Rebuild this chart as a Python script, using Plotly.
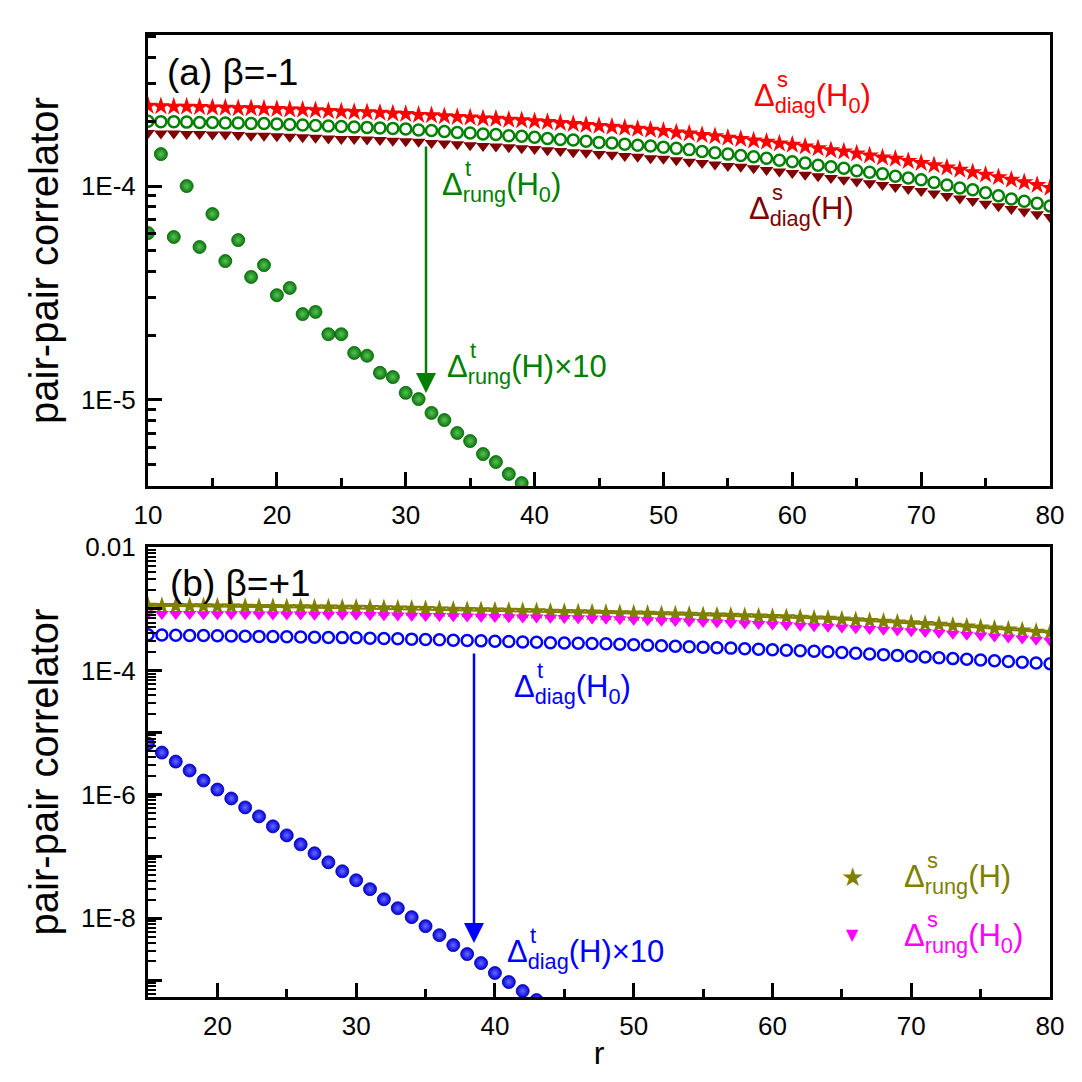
import plotly.graph_objects as go

W, H = 1082, 1082

# ---------------- data: panel (a), beta = -1 ----------------
r_a = list(range(10, 81))
diag_s_H0_a = [x * 1e-4 for x in [
    2.37, 2.36, 2.35, 2.35, 2.34, 2.33, 2.32, 2.31, 2.31, 2.30, 2.29,
    2.28, 2.27, 2.26, 2.24, 2.23, 2.22, 2.21, 2.20, 2.18, 2.17,
    2.15, 2.14, 2.12, 2.10, 2.09, 2.07, 2.06, 2.04, 2.03, 2.01,
    1.99, 1.97, 1.95, 1.93, 1.91, 1.89, 1.87, 1.85, 1.83, 1.81,
    1.78, 1.76, 1.73, 1.71, 1.68, 1.66, 1.63, 1.61, 1.58, 1.56,
    1.53, 1.50, 1.47, 1.45, 1.42, 1.39, 1.36, 1.34, 1.31, 1.28,
    1.25, 1.22, 1.19, 1.16, 1.13, 1.10, 1.07, 1.04, 1.01, 0.98]]
rung_t_H0_a = [x * 1e-4 for x in [
    2.01, 2.00, 2.00, 1.99, 1.98, 1.98, 1.97, 1.97, 1.96, 1.96, 1.95,
    1.94, 1.93, 1.92, 1.91, 1.90, 1.89, 1.88, 1.87, 1.86, 1.85,
    1.83, 1.82, 1.80, 1.78, 1.77, 1.75, 1.74, 1.72, 1.71, 1.69,
    1.67, 1.65, 1.64, 1.62, 1.60, 1.59, 1.57, 1.55, 1.54, 1.52,
    1.50, 1.48, 1.45, 1.43, 1.41, 1.39, 1.37, 1.35, 1.32, 1.30,
    1.28, 1.25, 1.23, 1.21, 1.18, 1.16, 1.14, 1.11, 1.09, 1.07,
    1.04, 1.01, 0.98, 0.96, 0.93, 0.90, 0.87, 0.85, 0.83, 0.807]]
diag_s_H_a = [x * 1e-4 for x in [
    1.77, 1.76, 1.76, 1.75, 1.75, 1.74, 1.74, 1.73, 1.72, 1.72, 1.71,
    1.70, 1.69, 1.68, 1.67, 1.66, 1.66, 1.65, 1.64, 1.63, 1.62,
    1.61, 1.59, 1.58, 1.57, 1.55, 1.54, 1.53, 1.52, 1.50, 1.49,
    1.47, 1.46, 1.44, 1.43, 1.41, 1.40, 1.38, 1.37, 1.35, 1.34,
    1.32, 1.30, 1.28, 1.26, 1.24, 1.23, 1.21, 1.19, 1.17, 1.15,
    1.13, 1.11, 1.09, 1.07, 1.05, 1.03, 1.01, 0.99, 0.97, 0.948,
    0.924, 0.899, 0.875, 0.851, 0.827, 0.804, 0.782, 0.760, 0.738, 0.716]]
r_a_H = list(range(10, 42))
rung_t_H_x10_a = [
    6.03e-5, 1.41e-4, 5.78e-5, 1.00e-4, 5.19e-5, 7.40e-5, 4.46e-5, 5.59e-5,
    3.76e-5, 4.27e-5, 3.09e-5, 3.34e-5, 2.52e-5, 2.58e-5, 2.03e-5, 2.03e-5,
    1.66e-5, 1.61e-5, 1.34e-5, 1.28e-5, 1.08e-5, 1.01e-5, 8.70e-6, 8.06e-6,
    7.01e-6, 6.43e-6, 5.59e-6, 5.13e-6, 4.51e-6, 4.09e-6, 3.60e-6, 3.23e-6]

# ---------------- data: panel (b), beta = +1 ----------------
r_b = list(range(15, 81))
rung_s_H_b = [x * 1e-4 for x in [
    11.2, 11.1, 11.1, 11.0, 11.0, 10.9, 10.9, 10.8, 10.7, 10.7, 10.6,
    10.6, 10.5, 10.5, 10.4, 10.4, 10.3, 10.2, 10.1, 10.0, 9.9,
    9.8, 9.7, 9.6, 9.5, 9.4, 9.3, 9.2, 9.1, 9.0, 8.9,
    8.8, 8.7, 8.6, 8.5, 8.4, 8.3, 8.2, 8.1, 8.0, 7.9,
    7.8, 7.7, 7.6, 7.5, 7.4, 7.3, 7.15, 7.0, 6.90, 6.72,
    6.55, 6.38, 6.21, 6.03, 5.86, 5.69, 5.52, 5.34, 5.16, 4.98,
    4.80, 4.62, 4.45, 4.27, 4.10]]
rung_s_H0_b = [x * 1e-4 for x in [
    8.30, 8.28, 8.26, 8.24, 8.22, 8.20, 8.18, 8.16, 8.14, 8.12, 8.10,
    8.08, 8.06, 8.04, 8.02, 8.00, 7.94, 7.88, 7.82, 7.76, 7.70,
    7.64, 7.58, 7.52, 7.46, 7.40, 7.34, 7.28, 7.22, 7.16, 7.10,
    7.03, 6.96, 6.90, 6.78, 6.67, 6.56, 6.45, 6.34, 6.23, 6.12,
    6.01, 5.90, 5.79, 5.68, 5.57, 5.46, 5.35, 5.24, 5.13, 4.99,
    4.86, 4.73, 4.60, 4.47, 4.34, 4.22, 4.10, 3.96, 3.83, 3.70,
    3.57, 3.44, 3.31, 3.18, 3.05]]
diag_t_H0_b = [x * 1e-4 for x in [
    3.81, 3.78, 3.75, 3.72, 3.70, 3.67, 3.64, 3.61, 3.59, 3.56, 3.53,
    3.51, 3.48, 3.45, 3.43, 3.40, 3.36, 3.32, 3.28, 3.24, 3.20,
    3.16, 3.12, 3.08, 3.04, 3.00, 2.96, 2.92, 2.88, 2.84, 2.81,
    2.78, 2.75, 2.72, 2.67, 2.63, 2.58, 2.54, 2.49, 2.45, 2.40,
    2.36, 2.32, 2.27, 2.23, 2.19, 2.15, 2.11, 2.06, 2.02, 1.97,
    1.92, 1.87, 1.82, 1.77, 1.72, 1.67, 1.62, 1.57, 1.53, 1.49,
    1.45, 1.41, 1.37, 1.33, 1.30]]
r_b_H = list(range(15, 45))
diag_t_H_x10_b = [
    6.65e-6, 4.75e-6, 3.40e-6, 2.44e-6, 1.68e-6, 1.20e-6, 8.61e-7, 6.17e-7,
    4.42e-7, 3.05e-7, 2.18e-7, 1.56e-7, 1.12e-7, 8.0e-8, 5.73e-8, 4.10e-8,
    2.94e-8, 2.02e-8, 1.45e-8, 1.04e-8, 7.43e-9, 5.32e-9, 3.67e-9, 2.63e-9,
    1.88e-9, 1.30e-9, 9.29e-10, 6.65e-10, 4.75e-10, 3.40e-10]

# ---------------- ticks ----------------
xticks_a = [10, 20, 30, 40, 50, 60, 70, 80]
xminor_a = [15, 25, 35, 45, 55, 65, 75]
xticks_b = [20, 30, 40, 50, 60, 70, 80]
xminor_b = [15, 25, 35, 45, 55, 65, 75]
yticks_a = [1e-5, 1e-4]
yticktext_a = ["1E-5", "1E-4"]
yminor_a = [m * 10.0 ** e for e in (-6, -5, -4) for m in range(2, 10)]
yticks_b = [1e-9, 1e-8, 1e-7, 1e-6, 1e-5, 1e-4, 1e-3, 1e-2]
yticktext_b = ["", "1E-8", "", "1E-6", "", "1E-4", "", "0.01"]
yminor_b = [m * 10.0 ** e for e in range(-10, -2) for m in range(2, 10)]

FONT = "Liberation Sans, Arial, sans-serif"
RED, GREEN, DRED = "#ff0000", "#008000", "#800000"
OLIVE, MAG, BLUE = "#808000", "#ff00ff", "#0000ff"

fig = go.Figure()

# panel (a)
fig.add_trace(go.Scatter(x=r_a, y=diag_s_H0_a, mode="markers", showlegend=False,
                         marker=dict(symbol="star", size=14, color=RED), xaxis="x", yaxis="y"))
fig.add_trace(go.Scatter(x=r_a, y=rung_t_H0_a, mode="markers", showlegend=False,
                         marker=dict(symbol="circle-open", size=11, color=GREEN, line=dict(width=2.5)),
                         xaxis="x", yaxis="y"))
fig.add_trace(go.Scatter(x=r_a, y=diag_s_H_a, mode="markers", showlegend=False,
                         marker=dict(symbol="triangle-down", size=12, color=DRED), xaxis="x", yaxis="y"))
fig.add_trace(go.Scatter(x=r_a_H, y=rung_t_H_x10_a, mode="markers", showlegend=False,
                         marker=dict(symbol="circle", size=13, color="#0a7a0a",
                                     gradient=dict(type="radial", color="#5cc05c"),
                                     line=dict(width=0.8, color="#006000")),
                         xaxis="x", yaxis="y"))

# panel (b)
fig.add_trace(go.Scatter(x=r_b, y=rung_s_H_b, mode="lines", showlegend=False,
                         line=dict(color=OLIVE, width=2), xaxis="x2", yaxis="y2"))
fig.add_trace(go.Scatter(x=r_b, y=rung_s_H_b, mode="markers", showlegend=False,
                         marker=dict(symbol="star", size=14, color=OLIVE), xaxis="x2", yaxis="y2"))
fig.add_trace(go.Scatter(x=r_b, y=rung_s_H0_b, mode="markers", showlegend=False,
                         marker=dict(symbol="triangle-down", size=12, color=MAG), xaxis="x2", yaxis="y2"))
fig.add_trace(go.Scatter(x=r_b, y=diag_t_H0_b, mode="markers", showlegend=False,
                         marker=dict(symbol="circle-open", size=11, color=BLUE, line=dict(width=2.5)),
                         xaxis="x2", yaxis="y2"))
fig.add_trace(go.Scatter(x=r_b_H, y=diag_t_H_x10_b, mode="markers", showlegend=False,
                         marker=dict(symbol="circle", size=13, color="#0000dc",
                                     gradient=dict(type="radial", color="#6a6aff"),
                                     line=dict(width=0.8, color="#0000a0")),
                         xaxis="x2", yaxis="y2"))

def px2paper(x, y):
    return x / W, 1 - y / H

common_axis = dict(showline=True, linewidth=3, linecolor="black", mirror=True, automargin=False,
                   ticks="inside", tickwidth=2.5, tickcolor="black", showgrid=False,
                   zeroline=False, tickfont=dict(family=FONT, size=26, color="black"))

xa_dom = [148 / W, 1050 / W]
fig.update_layout(
    template="none",
    width=W, height=H, margin=dict(l=0, r=0, t=0, b=0, pad=0), autosize=False,
    paper_bgcolor="white", plot_bgcolor="white", showlegend=False,
    font=dict(family=FONT, color="black"),
    xaxis=dict(domain=xa_dom, range=[10, 80], anchor="y", tickmode="array", tickvals=xticks_a,
               ticklen=14, ticklabelstandoff=4,
               minor=dict(tickmode="array", tickvals=xminor_a, ticks="inside", ticklen=8,
                          tickwidth=2.5, tickcolor="black", showgrid=False),
               **common_axis),
    yaxis=dict(domain=[1 - 486 / H, 1 - 35 / H], type="log", range=[-5.402, -3.294], anchor="x",
               tickmode="array", tickvals=yticks_a, ticktext=yticktext_a, ticklen=14,
               ticklabelstandoff=4,
               minor=dict(tickmode="array", tickvals=yminor_a, ticks="inside", ticklen=8,
                          tickwidth=2.5, tickcolor="black", showgrid=False),
               title=dict(text="pair-pair correlator", font=dict(family=FONT, size=40), standoff=10),
               **common_axis),
    xaxis2=dict(domain=xa_dom, range=[15, 80], anchor="y2", tickmode="array", tickvals=xticks_b,
                ticklen=14, ticklabelstandoff=4,
                minor=dict(tickmode="array", tickvals=xminor_b, ticks="inside", ticklen=8,
                           tickwidth=2.5, tickcolor="black", showgrid=False),
                title=dict(text="r", font=dict(family=FONT, size=32), standoff=2),
                **common_axis),
    yaxis2=dict(domain=[1 - 997 / H, 1 - 547 / H], type="log", range=[-9.274, -2.0], anchor="x2",
                tickmode="array", tickvals=yticks_b, ticktext=yticktext_b, ticklen=14,
                ticklabelstandoff=4,
                minor=dict(tickmode="array", tickvals=yminor_b, ticks="inside", ticklen=8,
                           tickwidth=2, tickcolor="black", showgrid=False),
                title=dict(text="pair-pair correlator", font=dict(family=FONT, size=40), standoff=10),
                **common_axis),
)

annotations = []

def label(xl, base, main, sup, color, size=31):
    x, y = px2paper(xl, base - 9)
    annotations.append(dict(x=x, y=y, xref="paper", yref="paper", text=main, showarrow=False,
                            xanchor="left", yanchor="middle",
                            font=dict(family=FONT, size=size, color=color)))
    if sup:
        xs, ys = px2paper(xl + 0.74 * size, base - 0.9 * size)
        annotations.append(dict(x=xs, y=ys, xref="paper", yref="paper", text=sup, showarrow=False,
                                xanchor="left", yanchor="middle",
                                font=dict(family=FONT, size=int(size * 0.72), color=color)))

label(165, 82, "(a) β=-1", None, "black", size=37)
label(168, 592, "(b) β=+1", None, "black", size=37)
label(752, 107, "Δ<sub>diag</sub>(H<sub>0</sub>)", "s", RED)
label(747, 220, "Δ<sub>diag</sub>(H)", "s", DRED)
label(440, 196, "Δ<sub>rung</sub>(H<sub>0</sub>)", "t", GREEN)
label(445, 378, "Δ<sub>rung</sub>(H)×10", "t", GREEN)
label(512, 698, "Δ<sub>diag</sub>(H<sub>0</sub>)", "t", BLUE)
label(505, 963, "Δ<sub>diag</sub>(H)×10", "t", BLUE)

# legend of panel (b): symbol keys and coloured labels
for (yc, glyph, gsize, col) in ((877, "★", 26, OLIVE), (935, "▼", 16, MAG)):
    xs, ys = px2paper(852, yc)
    annotations.append(dict(x=xs, y=ys, xref="paper", yref="paper", text=glyph, showarrow=False,
                            xanchor="center", yanchor="middle",
                            font=dict(family="DejaVu Sans", size=gsize, color=col)))
label(902, 888, "Δ<sub>rung</sub>(H)", "s", OLIVE)
label(902, 947, "Δ<sub>rung</sub>(H<sub>0</sub>)", "s", MAG)

# arrows
for (xh, yh, yt, col) in ((426, 393, 145, GREEN), (474, 943, 652, BLUE)):
    x, y = px2paper(xh, yh)
    annotations.append(dict(x=x, y=y, xref="paper", yref="paper", ax=0, ay=-(yh - yt),
                            axref="pixel", ayref="pixel", showarrow=True, arrowhead=2,
                            arrowsize=1.6, arrowwidth=2.5, arrowcolor=col, text=""))

fig.update_layout(annotations=annotations)
fig.write_html("out.html",
               post_script="document.body.style.margin='0';document.body.style.padding='0';"
                           "document.body.style.overflow='hidden';")
